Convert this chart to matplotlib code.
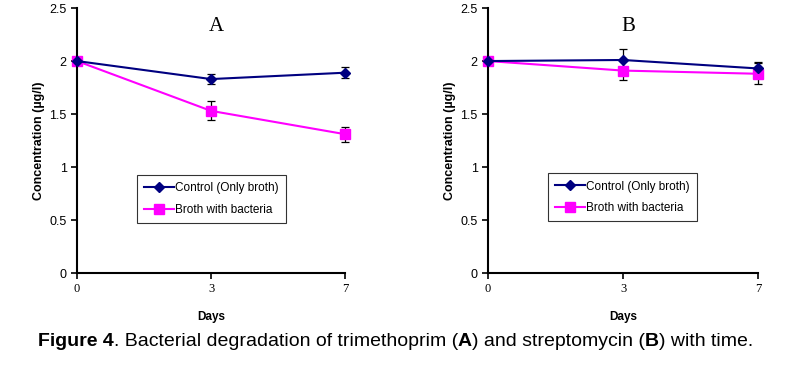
import matplotlib.pyplot as plt
import numpy as np
from matplotlib.lines import Line2D

plt.rcParams['font.family'] = ['Liberation Sans', 'DejaVu Sans']

days = ["0", "3", "7"]
series_names = ["Control (Only broth)", "Broth with bacteria"]

# panel A - trimethoprim
a_control = [2.00, 1.83, 1.89]
a_control_err = [0.0, 0.05, 0.05]
a_bact = [2.00, 1.53, 1.31]
a_bact_err = [0.0, 0.09, 0.07]

# panel B - streptomycin
b_control = [2.00, 2.01, 1.93]
b_control_err = [0.0, 0.10, 0.06]
b_bact = [2.00, 1.91, 1.88]
b_bact_err = [0.0, 0.09, 0.10]

fig = plt.figure(figsize=(7.99, 3.66), dpi=100)
axA = fig.add_axes([0.0964, 0.254, 0.3354, 0.724])
axB = fig.add_axes([0.6108, 0.254, 0.338, 0.724])

x = np.arange(len(days))
navy = "#000080"
magenta = "#FF00FF"

def draw(ax, ctrl, ctrl_err, bact, bact_err, letter, leg_pos):
    ax.errorbar(x, ctrl, yerr=ctrl_err, fmt="none", ecolor="black",
                elinewidth=0.9, capsize=3, capthick=0.9, zorder=1, clip_on=False)
    ax.errorbar(x, bact, yerr=bact_err, fmt="none", ecolor="black",
                elinewidth=0.9, capsize=3, capthick=0.9, zorder=1, clip_on=False)
    ax.plot(x, ctrl, color=navy, marker="D", markersize=5.5, lw=1.5,
            zorder=3, clip_on=False)
    ax.plot(x, bact, color=magenta, marker="s", markersize=7, lw=1.5,
            zorder=2, clip_on=False)
    ax.set_xlim(0, 2)
    ax.set_ylim(0, 2.5)
    ax.set_xticks(x)
    ax.set_xticklabels(days, family="Liberation Serif", fontsize=9)
    ax.set_yticks([0, 0.5, 1, 1.5, 2, 2.5])
    ax.set_yticklabels(["0", "0.5", "1", "1.5", "2", "2.5"], fontsize=9)
    ax.tick_params(length=4, width=1.2, direction="out")
    for s in ["top", "right"]:
        ax.spines[s].set_visible(False)
    for s in ["left", "bottom"]:
        ax.spines[s].set_linewidth(1.5)
    ax.set_xlabel("Days", fontsize=8.5, fontweight="bold", labelpad=11)
    ax.set_ylabel("Concentration (µg/l)", fontsize=9, fontweight="bold", labelpad=3)
    ax.text(0.52, 0.93, letter, transform=ax.transAxes, ha="center", va="center",
            fontsize=15, family="Liberation Serif")
    handles = [Line2D([], [], color=navy, marker="D", markersize=5.5, lw=1.5),
               Line2D([], [], color=magenta, marker="s", markersize=7, lw=1.5)]
    leg = ax.legend(handles, series_names, loc="lower left", bbox_to_anchor=leg_pos,
                    fontsize=8.5, frameon=True, fancybox=False, borderaxespad=0,
                    handlelength=2.5, handletextpad=0.15, borderpad=0.6,
                    labelspacing=0.8)
    leg.get_frame().set_edgecolor("black")
    leg.get_frame().set_linewidth(0.8)

draw(axA, a_control, a_control_err, a_bact, a_bact_err, "A", (0.224, 0.189))
draw(axB, b_control, b_control_err, b_bact, b_bact_err, "B", (0.222, 0.196))

# caption with mixed weights
parts = [("Figure 4", "bold"), (". Bacterial degradation of trimethoprim (", "normal"),
         ("A", "bold"), (") and streptomycin (", "normal"), ("B", "bold"),
         (") with time.", "normal")]
renderer = fig.canvas.get_renderer()
xpos = 38
ypix = 366 - 341
for s, w in parts:
    t = fig.text(xpos / 799, ypix / 366, s, fontsize=14, fontweight=w,
                 ha="left", va="center")
    bb = t.get_window_extent(renderer=renderer)
    xpos += bb.width

fig.savefig("out.png", dpi=100)
